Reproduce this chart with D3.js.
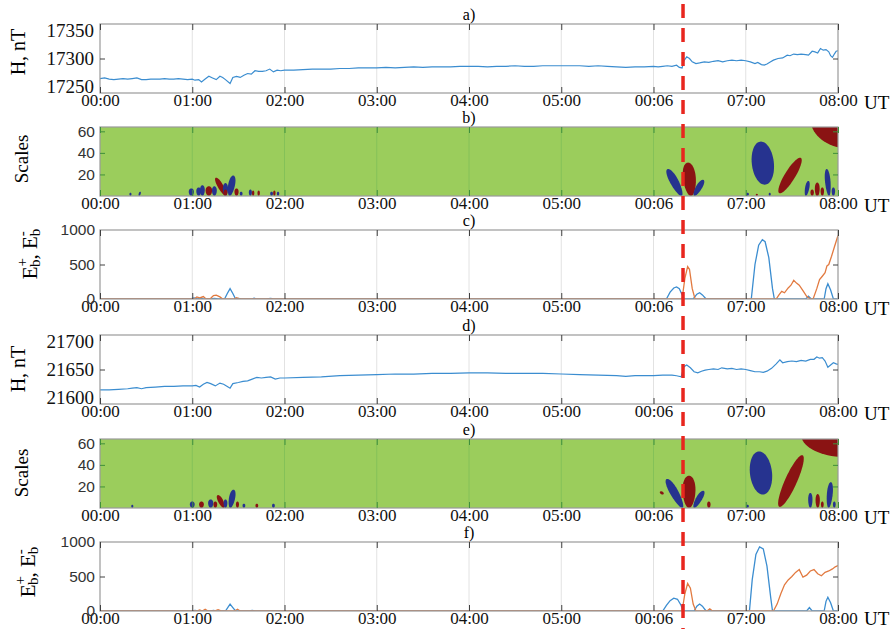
<!DOCTYPE html>
<html>
<head>
<meta charset="utf-8">
<script src="https://cdn.jsdelivr.net/npm/d3@7"></script>
<style>
  body { margin: 0; background: #fff; }
  svg { display: block; }
</style>
</head>
<body>
<svg id="fig" width="895" height="629"></svg>
<script>
// ---- time axis (hours UT) ----
const hourTicks = [0, 1, 2, 3, 4, 5, 6, 7, 8];
const hourLabels = ["00:00", "01:00", "02:00", "03:00", "04:00", "05:00", "00:06", "07:00", "08:00"];
const eventTime = 6.32;   // sudden impulse marker

// ---- H component, station 1 (nT) : [hour, value] ----
const hStation1 = [
  [0.00,17264],[0.05,17265],[0.10,17263],[0.15,17262],[0.20,17263],[0.25,17264],[0.30,17263],[0.35,17264],
  [0.40,17265],[0.45,17262],[0.50,17262],[0.55,17263],[0.60,17263],[0.65,17263],[0.70,17264],[0.75,17263],
  [0.80,17263],[0.85,17264],[0.90,17263],[0.95,17262],[1.00,17263],[1.03,17261],[1.07,17262],[1.10,17258],
  [1.14,17263],[1.18,17268],[1.22,17265],[1.26,17262],[1.30,17268],[1.33,17266],[1.36,17262],[1.41,17255],
  [1.44,17266],[1.48,17268],[1.52,17266],[1.56,17270],[1.60,17273],[1.64,17272],[1.68,17278],[1.72,17277],
  [1.76,17277],[1.80,17278],[1.84,17281],[1.88,17276],[1.92,17279],[1.96,17278],[2.00,17279],[2.10,17279],
  [2.20,17280],[2.30,17281],[2.40,17281],[2.50,17281],[2.60,17282],[2.70,17282],[2.80,17283],[2.90,17283],
  [3.00,17283],[3.10,17284],[3.20,17283],[3.30,17284],[3.40,17285],[3.50,17284],[3.60,17285],[3.70,17285],
  [3.80,17285],[3.90,17286],[4.00,17286],[4.10,17286],[4.20,17285],[4.30,17286],[4.40,17286],[4.50,17287],
  [4.60,17286],[4.70,17286],[4.80,17287],[4.90,17287],[5.00,17287],[5.10,17287],[5.20,17287],[5.30,17286],
  [5.40,17287],[5.50,17286],[5.60,17285],[5.70,17284],[5.80,17285],[5.90,17285],[6.00,17286],[6.05,17285],
  [6.10,17286],[6.15,17287],[6.20,17286],[6.25,17288],[6.28,17284],[6.31,17283],[6.33,17296],[6.36,17303],
  [6.39,17300],[6.42,17294],[6.46,17291],[6.50,17292],[6.55,17294],[6.60,17293],[6.65,17295],[6.70,17296],
  [6.75,17294],[6.80,17296],[6.85,17297],[6.90,17296],[6.95,17297],[7.00,17296],[7.05,17294],[7.10,17291],
  [7.13,17293],[7.17,17289],[7.20,17288],[7.23,17290],[7.27,17294],[7.30,17297],[7.35,17300],[7.40,17301],
  [7.45,17306],[7.48,17305],[7.52,17308],[7.56,17307],[7.60,17308],[7.65,17307],[7.68,17306],[7.72,17313],
  [7.75,17312],[7.78,17310],[7.81,17318],[7.84,17315],[7.87,17316],[7.90,17312],[7.92,17305],[7.94,17302],
  [7.96,17308],[7.98,17313],[8.00,17314]
];

// ---- H component, station 2 (nT) ----
const hStation2 = [
  [0.00,21614],[0.10,21614],[0.20,21615],[0.30,21616],[0.35,21617],[0.40,21618],[0.45,21616],[0.50,21618],
  [0.60,21619],[0.70,21620],[0.80,21620],[0.90,21621],[1.00,21621],[1.04,21622],[1.08,21619],[1.12,21624],
  [1.16,21627],[1.20,21625],[1.25,21621],[1.30,21626],[1.34,21624],[1.38,21620],[1.41,21617],[1.44,21625],
  [1.50,21627],[1.55,21629],[1.60,21630],[1.65,21633],[1.70,21636],[1.75,21635],[1.80,21636],[1.85,21637],
  [1.90,21633],[1.95,21635],[2.00,21635],[2.20,21636],[2.40,21637],[2.60,21639],[2.80,21640],[3.00,21641],
  [3.20,21642],[3.40,21642],[3.60,21643],[3.80,21643],[4.00,21644],[4.20,21644],[4.40,21643],[4.60,21643],
  [4.80,21643],[5.00,21642],[5.20,21641],[5.40,21640],[5.60,21639],[5.70,21638],[5.80,21639],[5.90,21639],
  [6.00,21639],[6.10,21640],[6.20,21640],[6.25,21639],[6.30,21637],[6.33,21655],[6.36,21658],[6.40,21653],
  [6.44,21646],[6.48,21644],[6.52,21647],[6.56,21649],[6.60,21650],[6.65,21651],[6.70,21650],[6.74,21653],
  [6.80,21651],[6.85,21652],[6.90,21650],[6.95,21651],[7.00,21650],[7.05,21648],[7.10,21646],[7.15,21646],
  [7.19,21645],[7.23,21647],[7.28,21652],[7.33,21660],[7.37,21667],[7.40,21662],[7.45,21664],[7.50,21665],
  [7.55,21664],[7.60,21666],[7.65,21665],[7.70,21668],[7.74,21668],[7.77,21672],[7.80,21670],[7.83,21671],
  [7.86,21665],[7.89,21654],[7.92,21658],[7.95,21662],[7.98,21660],[8.00,21659]
];

// ---- wavelet energy E_b+ / E_b- ----
const ePlus1 = [
  [0,0],[0.98,0],[1.02,15],[1.06,0],[1.10,12],[1.13,0],[1.20,0],[1.24,10],[1.28,0],[1.35,0],[1.38,80],
  [1.41,150],[1.44,80],[1.47,0],[1.50,8],[1.53,0],[1.64,0],[1.67,12],[1.70,0],[1.80,0],[1.85,8],[1.88,0],
  [6.14,0],[6.18,100],[6.22,160],[6.25,175],[6.28,150],[6.31,60],[6.33,0],[6.43,0],[6.47,70],[6.50,90],
  [6.53,60],[6.57,0],[7.06,0],[7.10,500],[7.14,780],[7.18,860],[7.21,830],[7.25,600],[7.29,150],[7.31,0],
  [7.65,0],[7.68,40],[7.71,0],[7.85,0],[7.87,150],[7.89,220],[7.92,130],[7.95,0],[8.00,0]
];
const eMinus1 = [
  [0,0],[1.02,0],[1.05,30],[1.08,15],[1.12,35],[1.15,0],[1.20,10],[1.23,50],[1.26,55],[1.30,30],[1.33,0],
  [1.45,0],[1.48,20],[1.52,0],[6.31,0],[6.34,300],[6.37,470],[6.39,430],[6.42,150],[6.45,0],[7.33,0],
  [7.36,60],[7.39,110],[7.42,90],[7.46,160],[7.49,200],[7.52,270],[7.55,230],[7.58,200],[7.62,120],
  [7.66,40],[7.70,0],[7.73,0],[7.77,150],[7.80,280],[7.83,330],[7.86,380],[7.88,480],[7.90,500],
  [7.93,620],[7.96,750],[8.00,920]
];
const ePlus2 = [
  [0,0],[1.00,0],[1.03,10],[1.06,0],[1.20,0],[1.23,8],[1.26,0],[1.36,0],[1.39,60],[1.41,100],[1.44,50],
  [1.47,0],[1.62,0],[1.65,8],[1.68,0],[6.10,0],[6.14,80],[6.18,150],[6.22,185],[6.26,170],[6.30,80],
  [6.32,0],[6.44,0],[6.47,70],[6.50,100],[6.53,70],[6.57,0],[7.04,0],[7.07,450],[7.11,820],[7.15,930],
  [7.19,900],[7.23,650],[7.27,200],[7.29,0],[7.66,0],[7.69,50],[7.72,0],[7.85,0],[7.87,140],[7.89,200],
  [7.92,120],[7.95,0],[8.00,0]
];
const eMinus2 = [
  [0,0],[1.05,0],[1.08,15],[1.11,0],[1.14,25],[1.17,0],[1.24,0],[1.28,20],[1.32,0],[1.46,0],[1.49,25],
  [1.52,0],[6.31,0],[6.34,250],[6.37,400],[6.40,330],[6.43,100],[6.46,0],[6.58,0],[6.61,30],[6.64,0],
  [7.30,0],[7.34,100],[7.38,250],[7.42,380],[7.46,450],[7.50,500],[7.54,560],[7.58,600],[7.62,490],
  [7.66,520],[7.70,580],[7.74,600],[7.78,540],[7.82,510],[7.86,560],[7.90,580],[7.94,610],[7.97,640],
  [8.00,660]
];

// ---- scalogram sign regions: [hour, scale, half-width (h), half-height (scale), lean (h per scale), sign] ----
const blobs1 = [
  [0.33,1.5,0.012,1.5,0,-1],[0.43,2,0.012,2,0.003,-1],
  [0.99,3.5,0.03,3.5,0,-1],[1.07,4,0.028,4,0,-1],[1.11,5,0.028,5,0,-1],[1.18,4.5,0.038,4.5,0,1],
  [1.24,4.5,0.028,4.5,0,-1],[1.31,8.5,0.036,8.5,-0.006,1],[1.36,6,0.03,6,0,-1],[1.425,9.5,0.04,9.5,0.002,-1],
  [1.36,3,0.022,3,0,1],[1.48,3.5,0.024,3.5,0,1],[1.53,2,0.016,2,0,-1],[1.63,3,0.018,3,0,-1],
  [1.66,2.5,0.014,2.5,0,1],[1.72,2.5,0.014,2.5,0,1],[1.86,2,0.016,2,0,-1],[1.89,2.5,0.014,2.5,0,1],
  [1.93,2,0.014,2,0,-1],
  [6.23,12.5,0.055,12.5,-0.0057,-1],[6.39,15.5,0.075,15.5,-0.001,1],[6.49,7.5,0.04,7.5,0.006,-1],
  [7.185,30.5,0.12,20,-0.001,-1],[7.48,19,0.065,16.5,0.0066,1],[8.12,72,0.42,28,0,1],
  [7.665,7,0.025,7,0.002,-1],[7.775,6,0.028,6.5,0,1],[7.89,12.5,0.032,12.5,-0.001,-1],
  [7.83,4,0.02,4,0,1],[7.95,4,0.02,4,0,-1],[7.72,3,0.02,3,0,1],[7.02,1.5,0.015,1.5,0,-1],
  [7.12,1,0.012,1,0,1],[7.26,1.5,0.012,1.5,0,-1]
];
const blobs2 = [
  [0.35,1.5,0.012,1.5,0,-1],
  [1.00,3,0.028,3,0,-1],[1.10,3,0.028,3,0,1],[1.20,4,0.03,4,0,-1],[1.25,3,0.022,3,0,1],
  [1.31,6,0.032,6,-0.005,1],[1.36,4,0.022,4,0,-1],[1.43,8.5,0.036,8.5,0.002,-1],[1.49,3,0.018,3,0,1],
  [1.56,2,0.016,2,0,-1],[1.70,2,0.016,2,0,1],[1.88,2,0.016,2,0,-1],
  [6.09,14,0.02,1.5,-0.005,1],[6.23,13.5,0.055,13.5,-0.006,-1],[6.385,15,0.075,15,0,1],
  [6.49,8,0.04,8,0.006,-1],[6.60,3,0.02,3,0,1],
  [7.165,32.5,0.12,20,-0.001,-1],[7.49,25,0.07,24,0.005,1],[8.10,68,0.5,21,0,1],
  [7.70,7,0.025,7,0,-1],[7.78,6.5,0.025,6.5,0,1],[7.91,12,0.034,12,0.001,-1],[7.83,3,0.016,3,0,1],
  [7.96,3,0.016,3,0,-1],[7.02,1.5,0.014,1.5,0,-1]
];

// ---- layout ----
const svg = d3.select("#fig");
const left = 100, right = 838, panelH = 69;
const tops = [24, 127, 230, 335, 439, 542];
const x = d3.scaleLinear().domain([0, 8]).range([left, right]);

const serif = "Liberation Serif, DejaVu Serif, serif";
const sans = "Liberation Sans, Arial, sans-serif";
const C = {
  line: "#3b8dd0", orange: "#e27a40", green: "#9bcd5c", gridGreen: "#84c158", tickGreen: "#3f8f3c",
  blue: "#26338f", red: "#8a1313", box: "#9a9a9a", tick: "#404040", grid: "#e2e2e2"
};

const defs = svg.append("defs");

function panel(i, yDomain, opts) {
  const top = tops[i], bottom = top + panelH;
  const y = d3.scaleLinear().domain(yDomain).range([bottom, top]);
  const g = svg.append("g");
  const clipId = "clip" + i;
  defs.append("clipPath").attr("id", clipId)
    .append("rect").attr("x", left).attr("y", top).attr("width", right - left).attr("height", panelH);

  const body = g.append("g").attr("clip-path", `url(#${clipId})`);
  if (opts.bg) body.append("rect").attr("x", left).attr("y", top)
    .attr("width", right - left).attr("height", panelH).attr("fill", opts.bg);

  // vertical hour grid
  body.selectAll("line.grid").data(hourTicks.slice(1, -1)).join("line")
    .attr("x1", d => x(d)).attr("x2", d => x(d)).attr("y1", top).attr("y2", bottom)
    .attr("stroke", opts.gridColor).attr("stroke-width", 1);

  opts.draw(body, y);

  // frame
  g.append("rect").attr("x", left).attr("y", top).attr("width", right - left).attr("height", panelH)
    .attr("fill", "none").attr("stroke", C.box).attr("stroke-width", 1.2);

  // x ticks (inside, top & bottom)
  const xb = g.append("g").attr("transform", `translate(0,${bottom})`)
    .call(d3.axisBottom(x).tickValues(hourTicks).tickFormat((d, k) => hourLabels[k])
      .tickSizeInner(-6).tickSizeOuter(0).tickPadding(1));
  xb.attr("font-family", serif).attr("font-size", 17);
  xb.select(".domain").remove();
  xb.selectAll(".tick line").attr("stroke", opts.tickColor);
  xb.selectAll(".tick text").style("font-family", serif).style("font-size", "17px").attr("fill", "#111");
  const xt = g.append("g").attr("transform", `translate(0,${top})`)
    .call(d3.axisTop(x).tickValues(hourTicks).tickFormat("").tickSizeInner(-6).tickSizeOuter(0));
  xt.select(".domain").remove();
  xt.selectAll(".tick line").attr("stroke", opts.tickColor);

  // y ticks
  const yl = g.append("g").attr("transform", `translate(${left},0)`)
    .call(d3.axisLeft(y).tickValues(opts.yTicks).tickFormat(d3.format("d"))
      .tickSizeInner(-5).tickSizeOuter(0).tickPadding(opts.yPad));
  yl.attr("font-family", opts.yFont);
  yl.select(".domain").remove();
  yl.selectAll(".tick line").attr("stroke", opts.tickColor)
    .attr("opacity", d => opts.yMarked.includes(d) ? 1 : 0);
  yl.selectAll(".tick text").style("font-family", opts.yFont).style("font-size", opts.ySize + "px")
    .attr("fill", opts.yFill);
  const yr = g.append("g").attr("transform", `translate(${right},0)`)
    .call(d3.axisRight(y).tickValues(opts.yMarked).tickFormat("").tickSizeInner(-5).tickSizeOuter(0));
  yr.select(".domain").remove();
  yr.selectAll(".tick line").attr("stroke", opts.tickColor);

  // panel letter
  svg.append("text").attr("x", 469).attr("y", top - 4).attr("text-anchor", "middle")
    .style("font-family", serif).style("font-size", "16px").text(opts.letter);
  // UT
  svg.append("text").attr("x", 864).attr("y", Math.min(bottom + 16, 625))
    .style("font-family", serif).style("font-size", "19px").text("UT");
  return { y, top, bottom };
}

const lineGen = y => d3.line().x(d => x(d[0])).y(d => y(d[1]));

function hPanel(i, dom, ticks, data, letter) {
  return panel(i, dom, {
    letter, gridColor: C.grid, tickColor: C.tick, yTicks: ticks, yMarked: [ticks[1]],
    yFont: serif, ySize: 19, yFill: "#111", yPad: 6,
    draw: (b, y) => b.append("path").datum(data).attr("d", lineGen(y))
      .attr("fill", "none").attr("stroke", C.line).attr("stroke-width", 1.2)
  });
}

function blobPath(y, bl) {
  const [t0, s0, rt, rs, lean] = bl;
  const grounded = s0 - rs <= 0.5;
  const pts = [];
  for (let k = 0; k < 72; k++) {
    const a = k / 72 * 2 * Math.PI;
    const s = s0 + rs * Math.sin(a);
    const u = (s - (s0 - rs)) / (2 * rs);
    const taper = grounded ? 0.8 + 0.25 * u : 1;
    const t = t0 + rt * Math.cos(a) * taper + lean * (s - s0);
    pts.push([x(t), y(s)]);
  }
  return d3.line().curve(d3.curveLinearClosed)(pts);
}

function scalePanel(i, blobs, letter) {
  return panel(i, [0, 64], {
    letter, bg: C.green, gridColor: C.gridGreen, tickColor: C.tickGreen,
    yTicks: [20, 40, 60], yMarked: [20, 40, 60], yFont: sans, ySize: 15.5, yFill: "#333", yPad: 5,
    draw: (b, y) => b.selectAll("path.blob").data(blobs).join("path")
      .attr("d", d => blobPath(y, d)).attr("fill", d => d[5] > 0 ? C.red : C.blue)
  });
}

function ePanel(i, plus, minus, letter) {
  return panel(i, [0, 1000], {
    letter, gridColor: C.grid, tickColor: C.tick, yTicks: [0, 500, 1000], yMarked: [500],
    yFont: sans, ySize: 15.5, yFill: "#333", yPad: 5,
    draw: (b, y) => {
      b.append("path").datum(plus).attr("d", lineGen(y)).attr("fill", "none")
        .attr("stroke", C.line).attr("stroke-width", 1.3);
      b.append("path").datum(minus).attr("d", lineGen(y)).attr("fill", "none")
        .attr("stroke", C.orange).attr("stroke-width", 1.3);
    }
  });
}

hPanel(0, [17238, 17362], [17250, 17300, 17350], hStation1, "a)");
scalePanel(1, blobs1, "b)");
ePanel(2, ePlus1, eMinus1, "c)");
hPanel(3, [21589, 21711], [21600, 21650, 21700], hStation2, "d)");
scalePanel(4, blobs2, "e)");
ePanel(5, ePlus2, eMinus2, "f)");

// y-axis titles
function yTitle(cx, cy, size) {
  return svg.append("text").attr("transform", `translate(${cx},${cy}) rotate(-90)`)
    .attr("text-anchor", "middle").attr("dominant-baseline", "central")
    .style("font-family", serif).style("font-size", size + "px");
}
yTitle(18, 52, 20).text("H, nT");
yTitle(21, 159, 19).text("Scales");
yTitle(18, 369, 20).text("H, nT");
yTitle(21, 473, 19).text("Scales");

function eTitle(cx, cy) {
  const t = yTitle(cx, cy, 21);
  t.append("tspan").text("E");
  t.append("tspan").style("font-size", "15px").attr("dy", -8).text("+");
  t.append("tspan").style("font-size", "15px").attr("dx", -9).attr("dy", 13).text("b");
  t.append("tspan").attr("dy", -5).text(", E");
  t.append("tspan").style("font-size", "15px").attr("dy", -8).text("-");
  t.append("tspan").style("font-size", "15px").attr("dx", -5).attr("dy", 13).text("b");
}
eTitle(30, 254);
eTitle(28, 572);

// event marker across all panels
svg.append("line").attr("x1", x(eventTime)).attr("x2", x(eventTime)).attr("y1", 4).attr("y2", 629)
  .attr("stroke", "#e8261e").attr("stroke-width", 3.5).attr("stroke-dasharray", "14,10");
</script>
</body>
</html>
